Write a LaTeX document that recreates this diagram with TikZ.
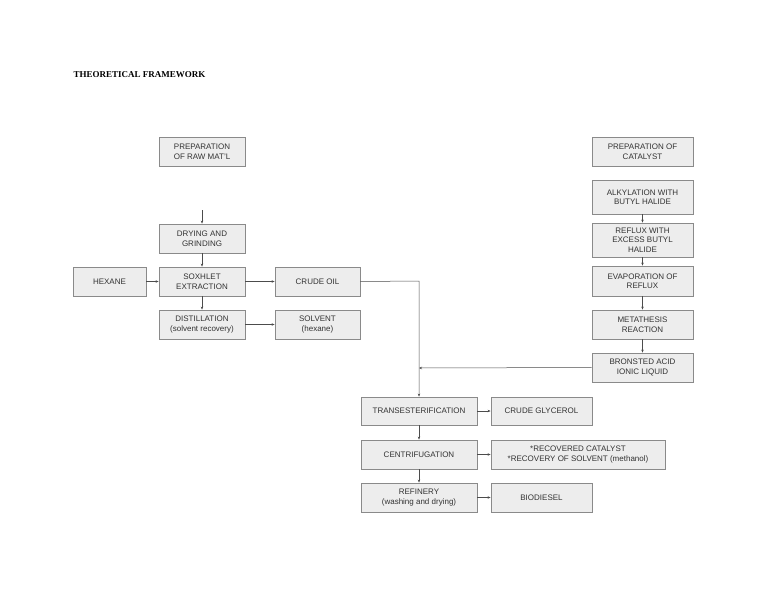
\documentclass[tikz,border=0pt]{standalone}
\usepackage{fontspec}
\setmainfont{Liberation Sans}
\newfontfamily\titlefont{Liberation Serif}
\usetikzlibrary{arrows.meta}
\definecolor{boxfill}{HTML}{EDEDED}
\definecolor{boxdraw}{HTML}{8A8A8A}
\definecolor{txt}{HTML}{333333}
\begin{document}
\begin{tikzpicture}[x=1pt,y=-1pt,
  bx/.style={draw=boxdraw,fill=boxfill,line width=0.8pt,align=center,text=txt,
    font=\fontsize{8}{9.5}\selectfont,inner sep=0pt},
  ar/.style={draw=black!70,line width=0.5pt,-{Stealth[length=3pt,width=2.5pt]}}]
\useasboundingbox (0,0) rectangle (768,594);
\newcommand\bxn[6]{\node[bx,minimum width=#4-#2,minimum height=#5-#3] (#1) at ({(#2+#4)/2},{(#3+#5)/2}) {#6};}
\node[anchor=west,font=\titlefont\bfseries\fontsize{9}{10}\selectfont] (title) at (70,75) {THEORETICAL FRAMEWORK};
\bxn{prep}{159}{137}{245}{166}{PREPARATION\\OF RAW MAT'L}
\bxn{dry}{159}{224}{245}{253}{DRYING AND\\GRINDING}
\bxn{sox}{159}{267}{245}{296}{SOXHLET\\EXTRACTION}
\bxn{hex}{73}{267}{146}{296}{HEXANE}
\bxn{crude}{275}{267}{360}{296}{CRUDE OIL}
\bxn{dist}{159}{310}{245}{339}{DISTILLATION\\(solvent recovery)}
\bxn{solv}{275}{310}{360}{339}{SOLVENT\\(hexane)}
\bxn{pcat}{592}{137}{693}{166}{PREPARATION OF\\CATALYST}
\bxn{alk}{592}{180}{693}{214}{ALKYLATION WITH\\BUTYL HALIDE}
\bxn{refl}{592}{223}{693}{257}{REFLUX WITH\\EXCESS BUTYL\\HALIDE}
\bxn{evap}{592}{266}{693}{296}{EVAPORATION OF\\REFLUX}
\bxn{meta}{592}{310}{693}{339}{METATHESIS\\REACTION}
\bxn{bron}{592}{353}{693}{382}{BRONSTED ACID\\IONIC LIQUID}
\bxn{trans}{361}{397}{477}{425}{TRANSESTERIFICATION}
\bxn{glyc}{491}{397}{592}{425}{CRUDE GLYCEROL}
\bxn{cent}{361}{440}{477}{469}{CENTRIFUGATION}
\bxn{rec}{491}{440}{665}{469}{*RECOVERED CATALYST\\*RECOVERY OF SOLVENT (methanol)}
\bxn{ref}{361}{483}{477}{512}{REFINERY\\(washing and drying)}
\bxn{bio}{491}{483}{592}{512}{BIODIESEL}
\coordinate (dtop) at (202,210);
\coordinate (c1) at (419,281);
\coordinate (c2) at (419,368);
\draw[ar] (dtop) -- (dry);
\draw[ar] (dry) -- (sox);
\draw[ar] (sox) -- (dist);
\draw[ar] (hex) -- (sox);
\draw[ar] (sox) -- (crude);
\draw[ar] (dist) -- (solv);
\draw[ar] (crude.east) -- (c1) -- (trans.north);
\draw[ar] (bron.west) -- (c2);
\draw[ar] (alk) -- (refl);
\draw[ar] (refl) -- (evap);
\draw[ar] (evap) -- (meta);
\draw[ar] (meta) -- (bron);
\draw[ar] (trans) -- (glyc);
\draw[ar] (trans) -- (cent);
\draw[ar] (cent) -- (rec);
\draw[ar] (cent) -- (ref);
\draw[ar] (ref) -- (bio);
\end{tikzpicture}
\end{document}
